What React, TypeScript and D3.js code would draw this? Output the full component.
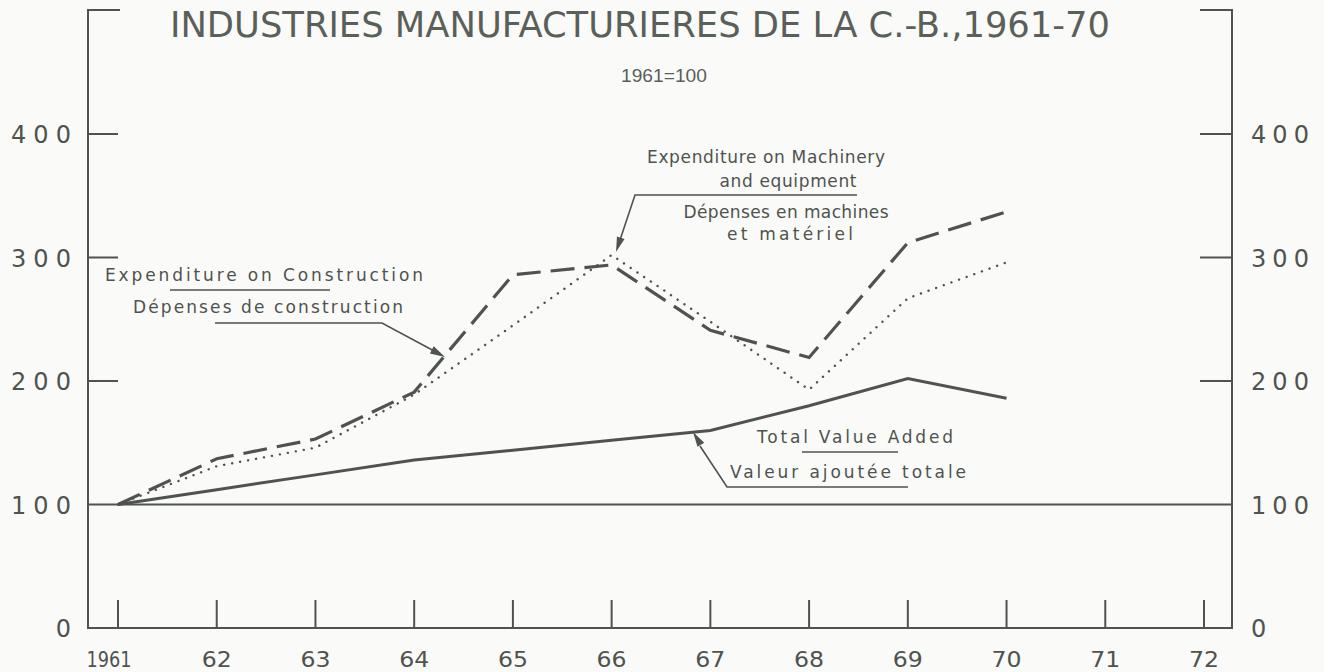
import React from 'react'
import * as d3 from 'd3'

// years plotted and x-axis ticks
const years = [1961, 1962, 1963, 1964, 1965, 1966, 1967, 1968, 1969, 1970]
const tickYears = [1961, 1962, 1963, 1964, 1965, 1966, 1967, 1968, 1969, 1970, 1971, 1972]
const tickLabels = ['1961', '62', '63', '64', '65', '66', '67', '68', '69', '70', '71', '72']
const yTicks = [0, 100, 200, 300, 400]

// index, 1961 = 100
const totalValueAdded = [100, 112, 124, 136, 144, 152, 160, 180, 202, 186]
const constructionSpending = [100, 137, 153, 191, 286, 294, 241, 219, 312, 337]
const machinerySpending = [100, 131, 146, 189, 245, 302, 248, 193, 267, 296]

const W = 1324
const H = 672
const INK = '#4e534e'
const FONT = "'DejaVu Sans', 'Noto Sans', sans-serif"

const left = 88
const right = 1232
const top = 10

const xScale = d3.scaleLinear().domain([1961, 1972]).range([118, 1204])
const yScale = d3.scaleLinear().domain([0, 400]).range([628, 134])

const line = d3
  .line<number>()
  .x((_, i) => xScale(years[i]))
  .y((d) => yScale(d))

// small filled arrow head pointing at (x2, y2)
const arrowHead = (x1: number, y1: number, x2: number, y2: number) => {
  const a = Math.atan2(y2 - y1, x2 - x1)
  const len = 15
  const half = 4
  const bx = x2 - len * Math.cos(a)
  const by = y2 - len * Math.sin(a)
  const px = -Math.sin(a) * half
  const py = Math.cos(a) * half
  return `M${x2},${y2}L${bx + px},${by + py}L${bx - px},${by - py}Z`
}

const Label: React.FC<{
  x: number
  y: number
  len: number
  size?: number
  anchor?: string
  children: React.ReactNode
}> = ({ x, y, len, size = 17, anchor = 'start', children }) => (
  <text
    x={x}
    y={y}
    fontSize={size}
    fill={INK}
    textAnchor={anchor}
    textLength={len}
    lengthAdjust="spacing"
    fontFamily={FONT}
  >
    {children}
  </text>
)

const App: React.FC = () => {
  const yLabel = (v: number) => (v === 0 ? '0' : String(v))

  return (
    <svg
      width={W}
      height={H}
      style={{ position: 'absolute', left: 0, top: 0, background: '#fafaf8' }}
    >
      {/* title */}
      <text
        x={640}
        y={37}
        fontSize={36}
        fill="#5a5f5a"
        textAnchor="middle"
        textLength={940}
        lengthAdjust="spacingAndGlyphs"
        fontFamily="'Liberation Sans Narrow', 'DejaVu Sans Condensed', 'Liberation Sans', sans-serif"
      >
        INDUSTRIES MANUFACTURIERES DE LA C.-B.,1961-70
      </text>
      <text
        x={664}
        y={82}
        fontSize={19}
        fill="#5a5f5a"
        textAnchor="middle"
        textLength={86}
        lengthAdjust="spacingAndGlyphs"
        fontFamily="'Liberation Sans Narrow', 'Liberation Sans', sans-serif"
      >
        1961=100
      </text>

      {/* frame */}
      <g stroke={INK} strokeWidth={2} fill="none">
        <path d={`M${left + 32},${top}H${left}V${yScale(0)}H${right}V${top}H${right - 32}`} />
        <line x1={left} x2={right} y1={yScale(100)} y2={yScale(100)} />
        {yTicks
          .filter((v) => v >= 200)
          .map((v) => (
            <g key={v}>
              <line x1={left} x2={left + 30} y1={yScale(v)} y2={yScale(v)} />
              <line x1={right - 32} x2={right} y1={yScale(v)} y2={yScale(v)} />
            </g>
          ))}
        {tickYears.map((yr) => (
          <line key={yr} x1={xScale(yr)} x2={xScale(yr)} y1={yScale(0)} y2={yScale(0) - 28} />
        ))}
      </g>

      {/* y labels both sides */}
      {yTicks.map((v) => (
        <g key={v}>
          <text
            x={71}
            y={yScale(v) + 9}
            fontSize={24}
            fill={INK}
            textAnchor="end"
            textLength={v === 0 ? undefined : 60}
            lengthAdjust="spacing"
            fontFamily={FONT}
          >
            {yLabel(v)}
          </text>
          <text
            x={1251}
            y={yScale(v) + 9}
            fontSize={24}
            fill={INK}
            textLength={v === 0 ? undefined : 58}
            lengthAdjust="spacing"
            fontFamily={FONT}
          >
            {yLabel(v)}
          </text>
        </g>
      ))}

      {/* x labels */}
      {tickYears.map((yr, i) => (
        <text
          key={yr}
          x={xScale(yr) - (i === 0 ? 9 : 0)}
          y={667}
          fontSize={22}
          fill={INK}
          textAnchor="middle"
          fontFamily={FONT}
          textLength={i === 0 ? 45 : 30}
          lengthAdjust="spacingAndGlyphs"
        >
          {tickLabels[i]}
        </text>
      ))}

      {/* series */}
      <path d={line(totalValueAdded) ?? ''} fill="none" stroke={INK} strokeWidth={3} />
      <path
        d={line(constructionSpending) ?? ''}
        fill="none"
        stroke={INK}
        strokeWidth={3.2}
        strokeDasharray="24 10"
      />
      <path
        d={line(machinerySpending) ?? ''}
        fill="none"
        stroke={INK}
        strokeWidth={2.4}
        strokeLinecap="round"
        strokeDasharray="0.1 8"
      />

      {/* construction annotation */}
      <Label x={105} y={281} len={318}>Expenditure on Construction</Label>
      <Label x={133} y={313} len={270}>Dépenses de construction</Label>
      <g stroke={INK} strokeWidth={1.6} fill="none">
        <line x1={170} x2={330} y1={290} y2={290} />
        <polyline points="215,323 382,323 436,352" />
      </g>
      <path d={arrowHead(382, 323, 445, 357)} fill={INK} />

      {/* machinery annotation */}
      <Label x={766} y={163} len={238} anchor="middle">Expenditure on  Machinery</Label>
      <Label x={788} y={187} len={137} anchor="middle">and equipment</Label>
      <Label x={786} y={218} len={205} anchor="middle">Dépenses en machines</Label>
      <Label x={790} y={240} len={126} anchor="middle">et matériel</Label>
      <g stroke={INK} strokeWidth={1.6} fill="none">
        <polyline points="857,195 635,195 620,240" />
      </g>
      <path d={arrowHead(635, 195, 616, 252)} fill={INK} />

      {/* value added annotation */}
      <Label x={757} y={443} len={196}>Total Value Added</Label>
      <Label x={730} y={478} len={236}>Valeur ajoutée totale</Label>
      <g stroke={INK} strokeWidth={1.6} fill="none">
        <line x1={802} x2={898} y1={452} y2={452} />
        <polyline points="908,487 727,487 700,446" />
      </g>
      <path d={arrowHead(727, 487, 693, 432)} fill={INK} />
    </svg>
  )
}

export default App
